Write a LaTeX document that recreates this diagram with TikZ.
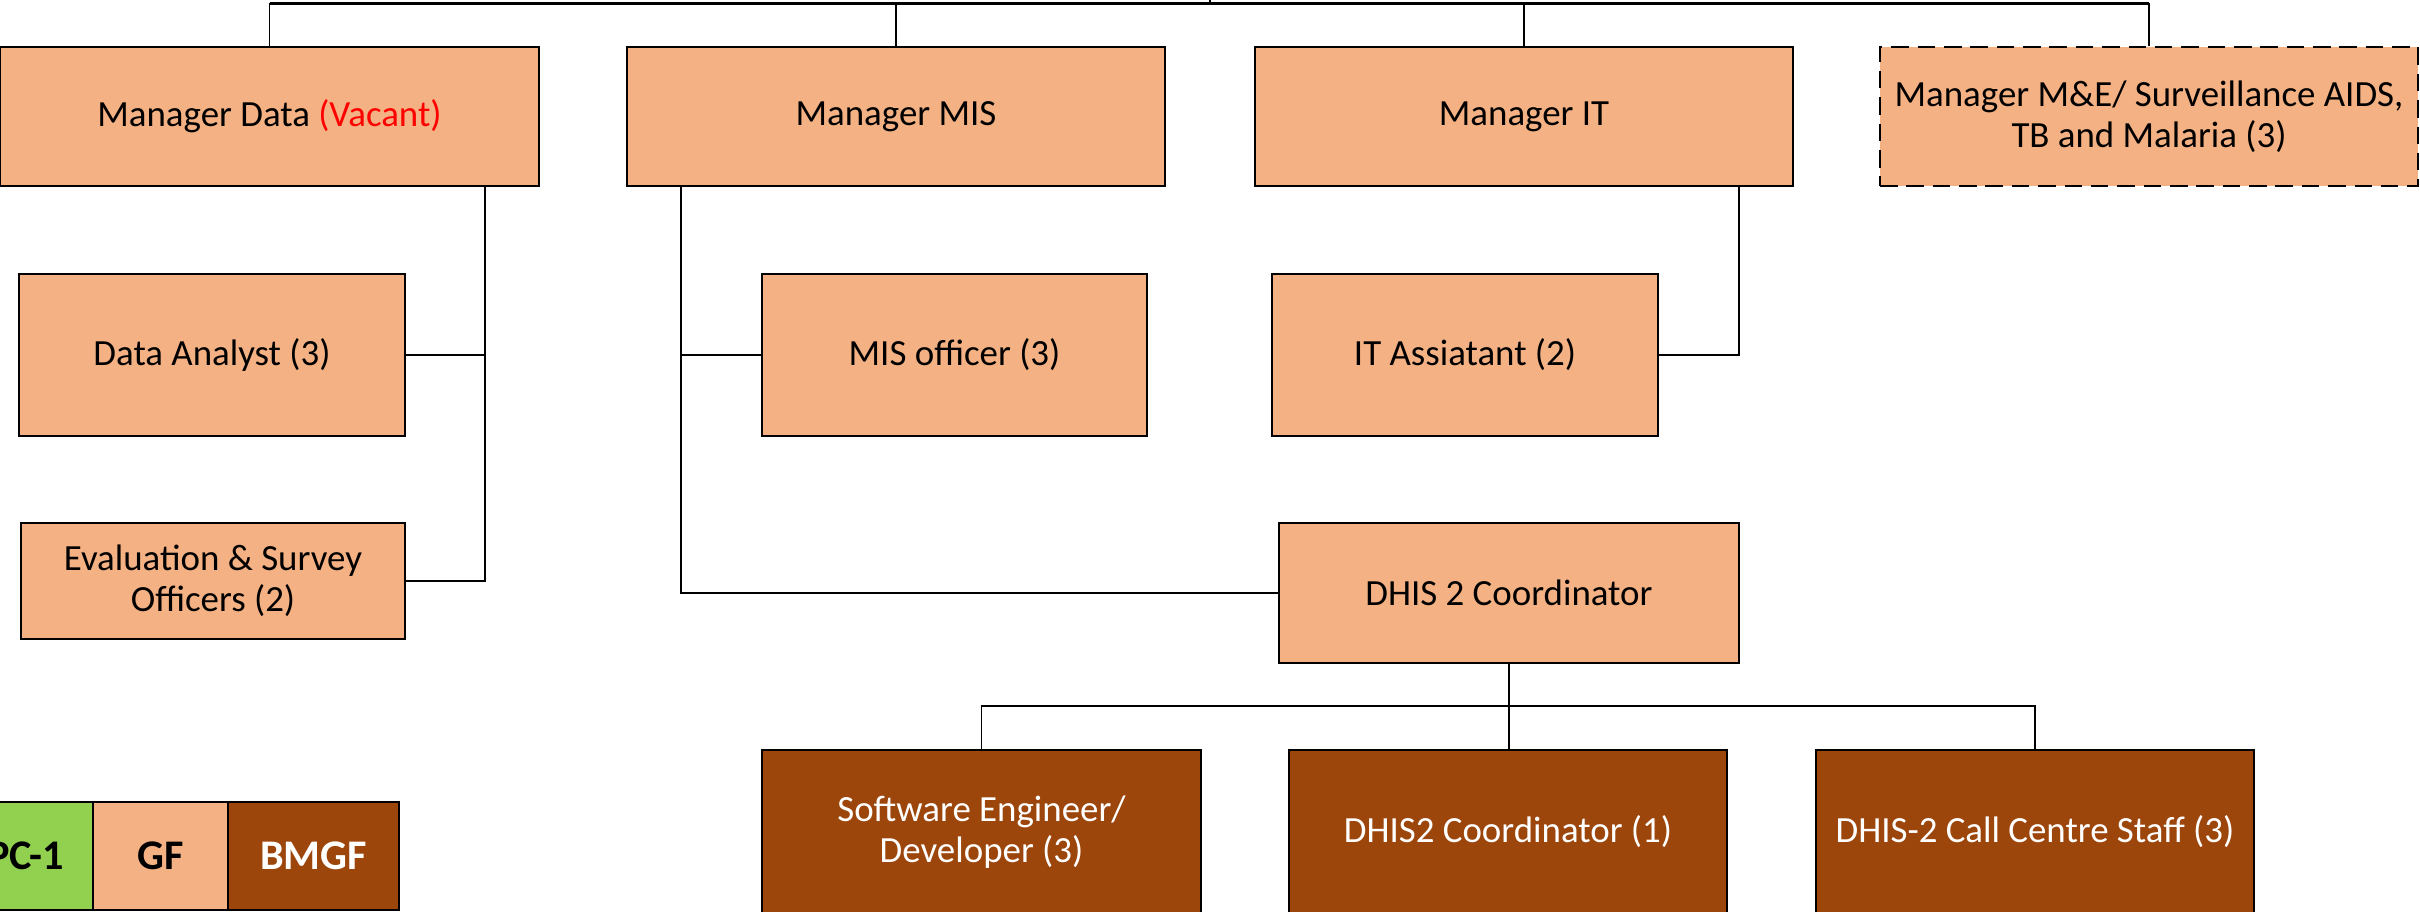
\documentclass[tikz,border=0pt]{standalone}
\usepackage{fontspec}
\setmainfont{Carlito}
\definecolor{gflight}{HTML}{F4B183}
\definecolor{bmgf}{HTML}{9C460C}
\definecolor{pcgreen}{HTML}{92D050}
\begin{document}
\begin{tikzpicture}[x=0.1mm,y=-0.1mm,
  box/.style={draw=black, line width=0.7pt, fill=gflight, inner sep=0pt, align=center,
    font=\fontsize{10.5}{11.7}\selectfont},
  brownbox/.style={box, fill=bmgf, text=white},
  dashbox/.style={box, dash pattern=on 5pt off 2.5pt},
  conn/.style={draw=black, line width=0.55pt},
  legcell/.style={draw=black, line width=0.5pt, inner sep=0pt, minimum height=10.8mm,
    font=\fontsize{12}{14}\selectfont\bfseries}]
\useasboundingbox (0,0) rectangle (2420,912);
% top row
\node[box, minimum width=53.9mm, minimum height=13.9mm] (mdata) at (269.5,116.5) {Manager Data \textcolor{red}{(Vacant)}};
\node[box, minimum width=53.8mm, minimum height=13.9mm] (mmis) at (896,116.5) {Manager MIS};
\node[box, minimum width=53.8mm, minimum height=13.9mm] (mit) at (1524,116.5) {Manager IT};
\node[dashbox, minimum width=53.8mm, minimum height=13.9mm] (mme) at (2149,116.5) {Manager M\&E/ Surveillance AIDS,\\TB and Malaria (3)};
% second row
\node[box, minimum width=38.6mm, minimum height=16.2mm] (analyst) at (212,355) {Data Analyst (3)};
\node[box, minimum width=38.5mm, minimum height=16.2mm] (misoff) at (954.5,355) {MIS officer (3)};
\node[box, minimum width=38.6mm, minimum height=16.2mm] (itasst) at (1465,355) {IT Assiatant (2)};
% third row
\node[box, minimum width=38.4mm, minimum height=11.6mm] (eval) at (213,581) {Evaluation \& Survey\\Officers (2)};
\node[box, minimum width=46mm, minimum height=14mm] (dhis) at (1509,593) {DHIS 2 Coordinator};
% bottom row
\node[brownbox, minimum width=43.9mm, minimum height=16.4mm] (swe) at (981.5,832) {Software Engineer/\\Developer (3)};
\node[brownbox, minimum width=43.8mm, minimum height=16.4mm] (dhis2c) at (1508,832) {DHIS2 Coordinator (1)};
\node[brownbox, minimum width=43.8mm, minimum height=16.4mm] (callc) at (2035,832) {DHIS-2 Call Centre Staff (3)};
% legend
\node[legcell, fill=pcgreen, minimum width=13.5mm] (lpc) at (25.5,856) {PC-1};
\node[legcell, fill=gflight, minimum width=13.5mm] (lgf) at (160.5,856) {GF};
\node[legcell, fill=bmgf, text=white, minimum width=17.1mm] (lbm) at (313.5,856) {BMGF};
% connector helpers
\coordinate (top) at (1210,0);
\coordinate (topbar) at (1210,3.5);
\coordinate (dx) at (485,0);
\coordinate (mx) at (681,0);
\coordinate (itx) at (1739,0);
\coordinate (bus) at (1508,706);
% top bar
\draw[conn] (top) -- (topbar);
\draw[conn, line width=0.8pt] (mdata.north |- topbar) -- (mme.north |- topbar);
\draw[conn] (mdata.north |- topbar) -- (mdata.north);
\draw[conn] (mmis.north |- topbar) -- (mmis.north);
\draw[conn] (mit.north |- topbar) -- (mit.north);
\draw[conn] (mme.north |- topbar) -- (mme.north);
% Manager Data branch
\draw[conn] (mdata.south -| dx) |- (eval.east);
\draw[conn] (analyst.east) -- (analyst.east -| dx);
% Manager MIS branch
\draw[conn] (mmis.south -| mx) |- (dhis.west);
\draw[conn] (misoff.west) -- (misoff.west -| mx);
% Manager IT branch
\draw[conn] (mit.south -| itx) |- (itasst.east);
% DHIS branch
\draw[conn] (dhis.south) -- (dhis.south |- dhis2c.north);
\draw[conn] (swe.north) |- (bus) -| (callc.north);
\end{tikzpicture}
\end{document}
